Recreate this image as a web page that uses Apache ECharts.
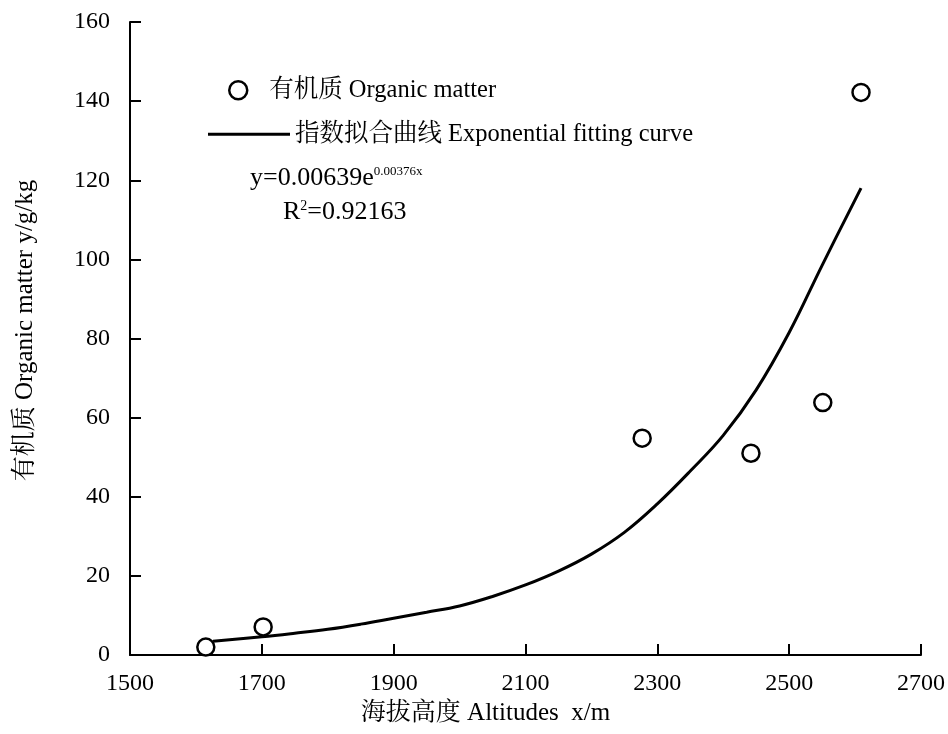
<!DOCTYPE html>
<html>
<head>
<meta charset="utf-8">
<script src="https://cdn.jsdelivr.net/npm/echarts@6/dist/echarts.min.js"></script>
<style>html,body{margin:0;padding:0;background:#fff}#c{width:948px;height:734px}</style>
</head>
<body>
<div id="c"></div>
<script>
// ---- data ----
const xTicks = [1500, 1700, 1900, 2100, 2300, 2500, 2700];
const yTicks = [0, 20, 40, 60, 80, 100, 120, 140, 160];
const obsAltitude = [1615, 1702, 2277, 2442, 2551, 2609];
const obsOrganic = [2.0, 7.1, 54.8, 51.0, 63.8, 142.2];
const fitAltitude = [1626, 1700, 1750, 1800, 1850, 1900, 1950, 2000, 2050, 2100, 2150, 2200, 2250, 2300, 2350, 2400, 2450, 2500, 2550, 2609];
const fitOrganic = [3.5, 4.6, 5.5, 6.5, 7.8, 9.3, 10.8, 12.4, 14.8, 17.7, 21.2, 25.5, 31.0, 38.2, 46.5, 55.5, 67.0, 81.5, 98.5, 118];
const nameObs = '有机质 Organic matter';
const nameFit = '指数拟合曲线 Exponential fitting curve';

const FONT = "'Liberation Serif', 'Times New Roman', 'Noto Serif CJK SC', 'Noto Sans CJK SC', serif";
const chart = echarts.init(document.getElementById('c'));
const axisCommon = {
  axisLine: { show: true, lineStyle: { color: '#000', width: 2 } },
  axisTick: { show: true, inside: true, length: 11, lineStyle: { color: '#000', width: 2 } },
  splitLine: { show: false },
  axisLabel: { color: '#000', fontFamily: FONT, fontSize: 24, formatter: v => String(v) }
};
chart.setOption({
  backgroundColor: '#fff',
  animation: false,
  grid: { left: 130, right: 25, top: 22, bottom: 79 },
  xAxis: Object.assign({}, axisCommon, {
    type: 'value', min: 1500, max: 2700, interval: 100,
    axisTick: Object.assign({}, axisCommon.axisTick, { customValues: xTicks }),
    axisLabel: Object.assign({}, axisCommon.axisLabel, { margin: 17, customValues: xTicks }),
    name: '海拔高度 Altitudes  x/m', nameLocation: 'middle', nameGap: 45,
    nameTextStyle: { color: '#000', fontFamily: FONT, fontSize: 25, padding: [0, 80, 0, 0] }
  }),
  yAxis: Object.assign({}, axisCommon, {
    type: 'value', min: 0, max: 160, interval: 20,
    axisLabel: Object.assign({}, axisCommon.axisLabel, { margin: 20, customValues: yTicks }),
    name: '有机质 Organic matter y/g/kg', nameLocation: 'middle', nameGap: 92,
    nameTextStyle: { color: '#000', fontFamily: FONT, fontSize: 25, padding: [0, 0, 0, 16] }
  }),
  legend: [
    {
      data: [nameObs], left: 223, top: 73, itemWidth: 52, itemHeight: 18,
      itemStyle: { color: '#fff', borderColor: '#000', borderWidth: 2.5 },
      textStyle: { color: '#000', fontFamily: FONT, fontSize: 24.5 }
    },
    {
      data: [{ name: nameFit, icon: 'rect' }], left: 203, top: 117, itemWidth: 82, itemHeight: 3,
      itemStyle: { color: '#000' },
      textStyle: { color: '#000', fontFamily: FONT, fontSize: 24.5 }
    }
  ],
  graphic: [
    {
      type: 'text', left: 250, top: 165,
      style: {
        text: '{a|y=0.00639e}{b|0.00376x}',
        fontFamily: FONT, fill: '#000',
        rich: {
          a: { fontFamily: FONT, fontSize: 26, fill: '#000', verticalAlign: 'bottom' },
          b: { fontFamily: FONT, fontSize: 13, fill: '#000', verticalAlign: 'top' }
        }
      }
    },
    {
      type: 'text', left: 283, top: 199,
      style: {
        text: '{a|R}{b|2}{a|=0.92163}',
        fontFamily: FONT, fill: '#000',
        rich: {
          a: { fontFamily: FONT, fontSize: 26, fill: '#000', verticalAlign: 'bottom' },
          b: { fontFamily: FONT, fontSize: 14, fill: '#000', verticalAlign: 'top' }
        }
      }
    }
  ],
  series: [
    {
      name: nameFit, type: 'line', smooth: 0.4, symbol: 'none', z: 2,
      data: fitAltitude.map((x, i) => [x, fitOrganic[i]]),
      lineStyle: { color: '#000', width: 3 },
      itemStyle: { color: '#000' }
    },
    {
      name: nameObs, type: 'scatter', symbol: 'circle', symbolSize: 17, z: 3,
      data: obsAltitude.map((x, i) => [x, obsOrganic[i]]),
      itemStyle: { color: '#fff', borderColor: '#000', borderWidth: 2.5, opacity: 1 }
    }
  ]
});
</script>
</body>
</html>
